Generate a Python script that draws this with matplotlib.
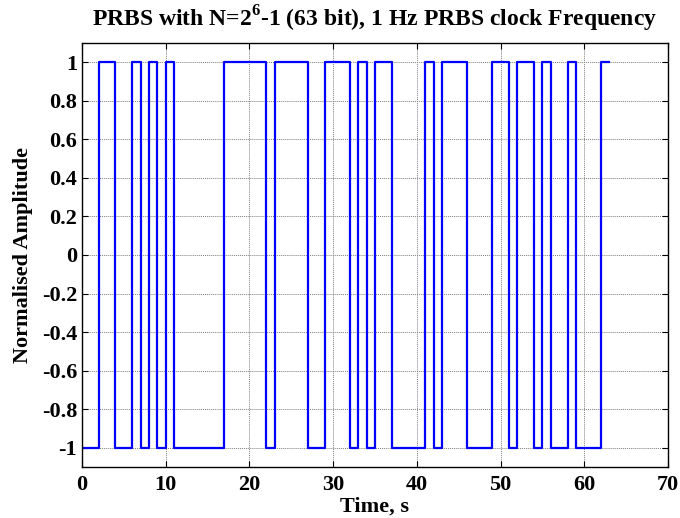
import numpy as np
import matplotlib
matplotlib.use("Agg")
import matplotlib.pyplot as plt

# PRBS bits, one per second (t = 0..62), plus the final hold point
t = np.arange(64)
bits = [-1, -1, 1, 1, -1, -1, 1, -1, 1, -1,
        1, -1, -1, -1, -1, -1, -1, 1, 1, 1,
        1, 1, -1, 1, 1, 1, 1, -1, -1, 1,
        1, 1, -1, 1, -1, 1, 1, -1, -1, -1,
        -1, 1, -1, 1, 1, 1, -1, -1, -1, 1,
        1, -1, 1, 1, -1, 1, -1, -1, 1, -1,
        -1, -1, 1, 1]

yticks = [-1, -0.8, -0.6, -0.4, -0.2, 0, 0.2, 0.4, 0.6, 0.8, 1]
ytick_labels = ["-1", "-0.8", "-0.6", "-0.4", "-0.2", "0", "0.2", "0.4", "0.6", "0.8", "1"]
xticks = [0, 10, 20, 30, 40, 50, 60, 70]

plt.rcParams['font.family'] = ['Liberation Serif', 'DejaVu Serif']
plt.rcParams['font.weight'] = 'bold'
plt.rcParams['mathtext.fontset'] = 'custom'
plt.rcParams['mathtext.rm'] = 'Liberation Serif'
plt.rcParams['mathtext.bf'] = 'Liberation Serif:bold'

fig = plt.figure(figsize=(6.8, 5.18), dpi=100)
ax = fig.add_axes([82 / 680, 1 - 467 / 518, 586 / 680, 424 / 518])

ax.step(t, bits, where='post', color='#0000ff', linewidth=1.6)

ax.set_xlim(0, 70)
ax.set_ylim(-1.1, 1.1)
ax.set_xticks(xticks)
ax.set_yticks(yticks)
ax.set_yticklabels(ytick_labels)
ax.grid(True, color='0.5', linewidth=0.7, linestyle=(0, (1, 1)))
ax.tick_params(direction='in', top=True, right=True, labelsize=16, length=4, width=0.8)
ax.tick_params(axis='x', pad=6)
for lbl in ax.get_xticklabels() + ax.get_yticklabels():
    lbl.set_fontweight('bold')
for s in ax.spines.values():
    s.set_linewidth(1.0)

ax.set_xlabel("Time, s", fontsize=16, fontweight='bold', labelpad=1)
ax.set_ylabel("Normalised Amplitude", fontsize=16, fontweight='bold', labelpad=6)
ax.set_title(r"PRBS with N=2$^{\mathbf{6}}$-1 (63 bit), 1 Hz PRBS clock Frequency",
             fontsize=17, fontweight='bold', pad=12)

fig.savefig("out.png", dpi=100)
